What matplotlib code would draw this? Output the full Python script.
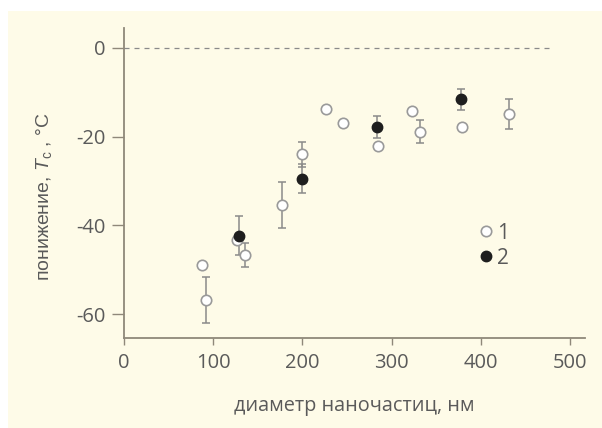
import numpy as np
import matplotlib
matplotlib.use("Agg")
import matplotlib.pyplot as plt
from matplotlib.patches import Rectangle
from matplotlib.lines import Line2D

# ---- data ----
s1_x = [88, 92, 127, 136, 177, 200, 227, 246, 285, 323, 332, 379, 432]
s1_y = [-49.0, -56.8, -43.3, -46.7, -35.4, -24.0, -13.7, -16.9, -22.0, -14.3, -18.9, -17.8, -14.9]
s1_err = [0, 5.2, 0, 2.8, 5.2, 2.8, 0, 0, 0, 0, 2.6, 0, 3.3]

s2_x = [129, 200, 284, 378]
s2_y = [-42.3, -29.5, -17.8, -11.6]
s2_err = [4.4, 3.3, 2.4, 2.4]

x_ticks = [0, 100, 200, 300, 400, 500]
y_ticks = [0, -20, -40, -60]
legend_labels = ["1", "2"]
x_label = "диаметр наночастиц, нм"
y_label = "понижение, $T_\\mathregular{c}$ , °C"

# ---- style ----
plt.rcParams['mathtext.fontset'] = 'custom'
plt.rcParams['mathtext.rm'] = 'Liberation Sans'
plt.rcParams['mathtext.it'] = 'Liberation Sans:italic'

bg = "#fefbe8"
axis_col = "#8f887a"
text_col = "#5a5a5a"
err_col = "#8a8a8a"
open_edge = "#9a9a9a"

W, H = 602, 428
fig = plt.figure(figsize=(W / 100, H / 100), dpi=100)
fig.patch.set_facecolor("white")
fig.add_artist(Rectangle((8 / W, 0), 1 - 8 / W, 1 - 11 / H, transform=fig.transFigure,
                         facecolor=bg, edgecolor="none", zorder=0))

ax = fig.add_axes([124 / W, (H - 338) / H, (585 - 124) / W, (338 - 28) / H])
ax.set_facecolor("none")
ax.set_xlim(0, 517)
ax.set_ylim(-65.4, 4.5)

for s in ["top", "right"]:
    ax.spines[s].set_visible(False)
for s in ["left", "bottom"]:
    ax.spines[s].set_color(axis_col)
    ax.spines[s].set_linewidth(1.3)

ax.set_xticks(x_ticks)
ax.set_yticks(y_ticks)
ax.set_xticklabels([str(v) for v in x_ticks])
ax.set_yticklabels([str(v) for v in y_ticks])
ax.tick_params(axis="x", direction="out", length=5, width=1, color=axis_col,
               labelsize=14.5, labelcolor=text_col, pad=6)
ax.tick_params(axis="y", direction="out", length=9, width=1, color=axis_col,
               labelsize=14.5, labelcolor=text_col, pad=4)
for lab in ax.get_xticklabels() + ax.get_yticklabels():
    lab.set_fontfamily("Open Sans")

# reference line at zero
zero_end = 481
ax.hlines(0, 0, zero_end, colors="#8a8a8a", linestyles=(0, (4, 4)), linewidth=0.9, zorder=1)

# error bars
s1_xa, s1_ya, s1_ea = map(np.array, (s1_x, s1_y, s1_err))
m = s1_ea > 0
ax.errorbar(s1_xa[m], s1_ya[m], yerr=s1_ea[m], fmt="none", ecolor=err_col,
            elinewidth=1.1, capsize=3, capthick=1.1, zorder=2)
ax.errorbar(s2_x, s2_y, yerr=s2_err, fmt="none", ecolor=err_col,
            elinewidth=1.1, capsize=3, capthick=1.1, zorder=2)

# markers
ax.plot(s1_x, s1_y, linestyle="none", marker="o", markersize=7.5,
        markerfacecolor="white", markeredgecolor=open_edge, markeredgewidth=1.2, zorder=3)
ax.plot(s2_x, s2_y, linestyle="none", marker="o", markersize=7.5,
        markerfacecolor="#1e1e1e", markeredgecolor="#1e1e1e", markeredgewidth=1.0, zorder=4)

handles = [
    Line2D([], [], linestyle="none", marker="o", markersize=7.5, markerfacecolor="white",
           markeredgecolor=open_edge, markeredgewidth=1.2),
    Line2D([], [], linestyle="none", marker="o", markersize=7.5, markerfacecolor="#1e1e1e",
           markeredgecolor="#1e1e1e"),
]
leg = ax.legend(handles, legend_labels, loc="center left", bbox_to_anchor=(0.731, 0.298),
                frameon=False, handlelength=0.6, handletextpad=0.25, labelspacing=0.2,
                prop={"family": "Open Sans", "size": 15})
for t in leg.get_texts():
    t.set_color(text_col)

ax.set_xlabel(x_label, fontsize=14.3, color=text_col, family="Open Sans", labelpad=16)
ax.set_ylabel(y_label, fontsize=14, color=text_col, family="Liberation Sans")
ax.yaxis.set_label_coords((54 - 124) / (585 - 124), (338 - 197) / (338 - 28))

fig.savefig("out.png", dpi=100, facecolor=fig.get_facecolor())
